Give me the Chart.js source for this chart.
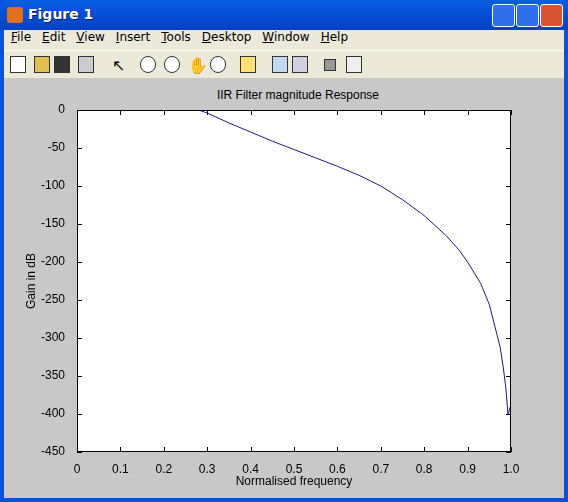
<!DOCTYPE html>
<html><head><meta charset="utf-8">
<script src="https://cdn.jsdelivr.net/npm/chart.js@4"></script>
<style>
body{margin:0;width:568px;height:502px;overflow:hidden;font-family:"Liberation Sans",Arial,sans-serif;}
#win{position:absolute;left:0;top:0;width:568px;height:502px;background:#0a52d8;}
#inner{position:absolute;left:4px;top:30px;width:560px;height:468px;background:#ece9d8;}
#titlebar{position:absolute;left:0;top:0;width:568px;height:30px;background:linear-gradient(#0a5fe0,#0751d8 40%,#0542c0);border-radius:6px 6px 0 0;}
#titlebar span{position:absolute;left:28px;top:6px;color:#fff;font:bold 14px "DejaVu Sans",sans-serif;text-shadow:1px 1px #0a1e70;}
#icon{position:absolute;left:7px;top:7px;width:16px;height:16px;background:#e07020;border-radius:3px;}
.btn{position:absolute;top:4px;width:21px;height:21px;border:1px solid #fff;border-radius:3px;background:#2f6fe8;}
#menu{position:absolute;left:4px;top:30px;height:18px;font:12px "DejaVu Sans",sans-serif;}
#menu span{margin-left:7px;margin-right:4px;}
#toolbar{position:absolute;left:4px;top:50px;width:560px;height:26px;border-top:1px solid #fff;}
.tb{position:absolute;top:5px;width:14px;height:15px;border:1px solid #333;background:#fff;}
#fig{position:absolute;left:4px;top:78px;width:560px;height:420px;background:#c8c8c8;}
#ttl{position:absolute;left:0;top:10px;width:588px;text-align:center;font-size:12px;}
canvas{position:absolute;left:-4px;top:0;}
</style></head><body>
<div id="win">
<div id="titlebar"><div id="icon"></div><span>Figure 1</span>
<div class="btn" style="left:492px"></div><div class="btn" style="left:516px"></div><div class="btn" style="left:540px;background:#d8532f"></div></div>
<div id="inner"></div>
<div id="menu"><span><u>F</u>ile</span><span><u>E</u>dit</span><span><u>V</u>iew</span><span><u>I</u>nsert</span><span><u>T</u>ools</span><span><u>D</u>esktop</span><span><u>W</u>indow</span><span><u>H</u>elp</span></div>
<div id="toolbar">
<div class="tb" style="left:6px"></div><div class="tb" style="left:30px;background:#e0c050"></div><div class="tb" style="left:50px;background:#333"></div><div class="tb" style="left:74px;background:#ccc"></div>
<div class="tb" style="left:108px;border:none;background:none">↖</div>
<div class="tb" style="left:136px;border-radius:8px"></div><div class="tb" style="left:160px;border-radius:8px"></div><div class="tb" style="left:184px;border:none;background:none">✋</div><div class="tb" style="left:206px;border-radius:8px"></div>
<div class="tb" style="left:236px;background:#ffe070"></div><div class="tb" style="left:268px;background:#c0d8f0"></div><div class="tb" style="left:288px;background:#d0d0e0"></div>
<div class="tb" style="left:320px;background:#999;width:10px;height:10px;top:8px"></div><div class="tb" style="left:342px;background:#eee"></div>
</div>
<div id="fig"><div id="ttl">IIR Filter magnitude Response</div><canvas id="c" width="568" height="420"></canvas></div>
</div>
<script>
const freq = [0, 0.1, 0.2, 0.28, 0.3, 0.35, 0.4, 0.45, 0.5, 0.55, 0.6, 0.65, 0.7, 0.75, 0.8, 0.85, 0.88, 0.9, 0.93, 0.95, 0.963, 0.975, 0.982, 0.988, 0.993, 0.996, 1.0];
const gain = [0, 0, 0, 0, -4, -17, -29, -41, -52, -63, -74, -86, -100, -118, -139, -165, -184, -200, -228, -256, -285, -312, -338, -365, -401, -395, -388];
const xTicks = [0, 0.1, 0.2, 0.3, 0.4, 0.5, 0.6, 0.7, 0.8, 0.9, 1];
const yTicks = [0, -50, -100, -150, -200, -250, -300, -350, -400, -450];

// MATLAB style box with inward ticks
const boxTicks = {
  id: "boxTicks",
  afterDraw(chart) {
    const { ctx, chartArea: a, scales: { x, y } } = chart;
    ctx.save();
    ctx.strokeStyle = "#000";
    ctx.lineWidth = 1;
    ctx.strokeRect(a.left + 0.5, a.top + 0.5, a.width - 1, a.height - 1);
    ctx.beginPath();
    xTicks.forEach((v) => {
      const px = Math.round(x.getPixelForValue(v)) + 0.5;
      ctx.moveTo(px, a.bottom); ctx.lineTo(px, a.bottom - 5);
      ctx.moveTo(px, a.top); ctx.lineTo(px, a.top + 5);
    });
    yTicks.forEach((v) => {
      const py = Math.round(y.getPixelForValue(v)) + 0.5;
      ctx.moveTo(a.left, py); ctx.lineTo(a.left + 5, py);
      ctx.moveTo(a.right, py); ctx.lineTo(a.right - 5, py);
    });
    ctx.stroke();
    ctx.restore();
  },
};

const bg = {
  id: "bg",
  beforeDraw(chart) {
    const { ctx, chartArea: a } = chart;
    ctx.fillStyle = "#fff";
    ctx.fillRect(a.left, a.top, a.width, a.height);
  },
};

new Chart(document.getElementById("c"), {
  type: "scatter",
  data: {
    datasets: [{
      data: freq.map((f, i) => ({ x: f, y: gain[i] })),
      showLine: true,
      borderColor: "#1a1a90",
      borderWidth: 1,
      pointRadius: 0,
      tension: 0,
    }],
  },
  options: {
    responsive: false,
    animation: false,
    layout: { padding: { top: 32, right: 57, left: 24, bottom: 9 } },
    plugins: { legend: { display: false }, tooltip: { enabled: false } },
    scales: {
      x: {
        min: 0, max: 1,
        afterBuildTicks: (s) => { s.ticks = xTicks.map((v) => ({ value: v })); },
        afterFit: (s) => { s.height = 37; },
        grid: { display: false },
        border: { display: false },
        ticks: { color: "#000", font: { size: 12, family: "Liberation Sans" }, padding: 2 },
        title: { display: true, text: "Normalised frequency", color: "#000", font: { size: 12, family: "Liberation Sans" }, padding: 0 },
      },
      y: {
        min: -450, max: 0,
        afterBuildTicks: (s) => { s.ticks = yTicks.map((v) => ({ value: v })); },
        afterFit: (s) => { s.width = 53; },
        grid: { display: false },
        border: { display: false },
        ticks: { color: "#000", font: { size: 12, family: "Liberation Sans" }, padding: 4 },
        title: { display: true, text: "Gain in dB", color: "#000", font: { size: 12, family: "Liberation Sans" }, padding: 0 },
      },
    },
  },
  plugins: [bg, boxTicks],
});
</script>
</body></html>
